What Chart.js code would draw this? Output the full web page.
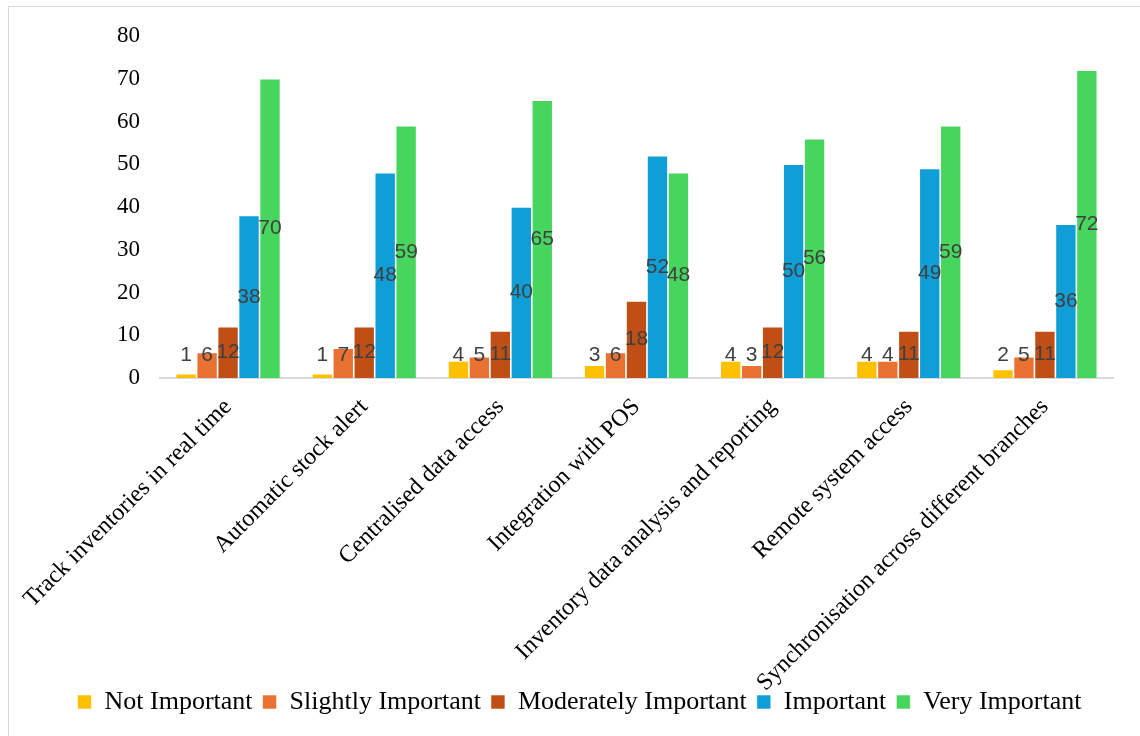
<!DOCTYPE html>
<html>
<head>
<meta charset="utf-8">
<script src="https://cdn.jsdelivr.net/npm/chart.js@4/dist/chart.umd.min.js"></script>
<style>
  html, body { margin: 0; padding: 0; background: #fff; overflow: hidden; }
  .frame {
    position: absolute; left: 8px; top: 6px; width: 1200px; height: 800px;
    border: 1.5px solid #d9d9d9;
  }
  #chart { position: absolute; left: 0; top: 0; }
</style>
</head>
<body>
<div class="frame"></div>
<canvas id="chart" width="1140" height="736"></canvas>
<script>
  // Chart data
  const categories = [
    "Track inventories in real time",
    "Automatic stock alert",
    "Centralised data access",
    "Integration with POS",
    "Inventory data analysis and reporting",
    "Remote system access",
    "Synchronisation across different branches",
  ];
  const notImportant = [1, 1, 4, 3, 4, 4, 2];
  const slightlyImportant = [6, 7, 5, 6, 3, 4, 5];
  const moderatelyImportant = [12, 12, 11, 18, 12, 11, 11];
  const important = [38, 48, 40, 52, 50, 49, 36];
  const veryImportant = [70, 59, 65, 48, 56, 59, 72];
  const yTicks = [0, 10, 20, 30, 40, 50, 60, 70, 80];

  const serif = "'Liberation Serif', 'Times New Roman', serif";

  // Value labels in the middle of each bar, kept above the baseline for short bars
  const barLabels = {
    id: "barLabels",
    afterDatasetsDraw(chart) {
      const ctx = chart.ctx;
      ctx.save();
      ctx.font = "21px 'Liberation Sans', Arial, sans-serif";
      ctx.fillStyle = "#404040";
      ctx.textAlign = "center";
      ctx.textBaseline = "middle";
      chart.data.datasets.forEach((ds, i) => {
        chart.getDatasetMeta(i).data.forEach((bar, j) => {
          const mid = (bar.y + bar.base) / 2;
          const y = Math.min(mid, bar.base - 23);
          ctx.fillText(String(ds.data[j]), bar.x, y);
        });
      });
      ctx.restore();
    },
  };

  const makeSet = (label, data, color) => ({
    label,
    data,
    backgroundColor: color,
    borderColor: "rgba(255,255,255,0.7)",
    borderWidth: 0.8,
    categoryPercentage: 0.77,
    barPercentage: 1,
  });

  new Chart(document.getElementById("chart"), {
    type: "bar",
    data: {
      labels: categories,
      datasets: [
        makeSet("Not Important", notImportant, "#FFC000"),
        makeSet("Slightly Important", slightlyImportant, "#E97132"),
        makeSet("Moderately Important", moderatelyImportant, "#C04F15"),
        makeSet("Important", important, "#0F9ED5"),
        makeSet("Very Important", veryImportant, "#47D65D"),
      ],
    },
    options: {
      responsive: false,
      animation: false,
      layout: { padding: { left: 46, right: 27, top: 36, bottom: 11 } },
      plugins: {
        tooltip: { enabled: false },
        legend: {
          position: "bottom",
          labels: {
            boxWidth: 14,
            boxHeight: 14,
            padding: 10,
            color: "#000",
            font: { family: serif, size: 26 },
          },
        },
      },
      scales: {
        x: {
          grid: { display: false, drawTicks: false },
          border: { display: true, color: "#d9d9d9", width: 2 },
          ticks: {
            color: "#000",
            font: { family: serif, size: 24 },
            maxRotation: 45,
            minRotation: 45,
            padding: 15,
            autoSkip: false,
          },
          afterFit(scale) {
            scale.height = 301;
            // let long labels run into the legend row, as in the original
            scale._computeLabelArea = () => undefined;
          },
        },
        y: {
          min: 0,
          max: 80,
          grid: { display: false, drawTicks: false },
          border: { display: false },
          afterBuildTicks(scale) {
            scale.ticks = yTicks.map((v) => ({ value: v }));
          },
          ticks: {
            color: "#000",
            font: { family: serif, size: 23 },
            padding: 20,
          },
          afterFit(scale) {
            scale.width = 114;
          },
        },
      },
    },
    plugins: [barLabels],
  });
</script>
</body>
</html>
